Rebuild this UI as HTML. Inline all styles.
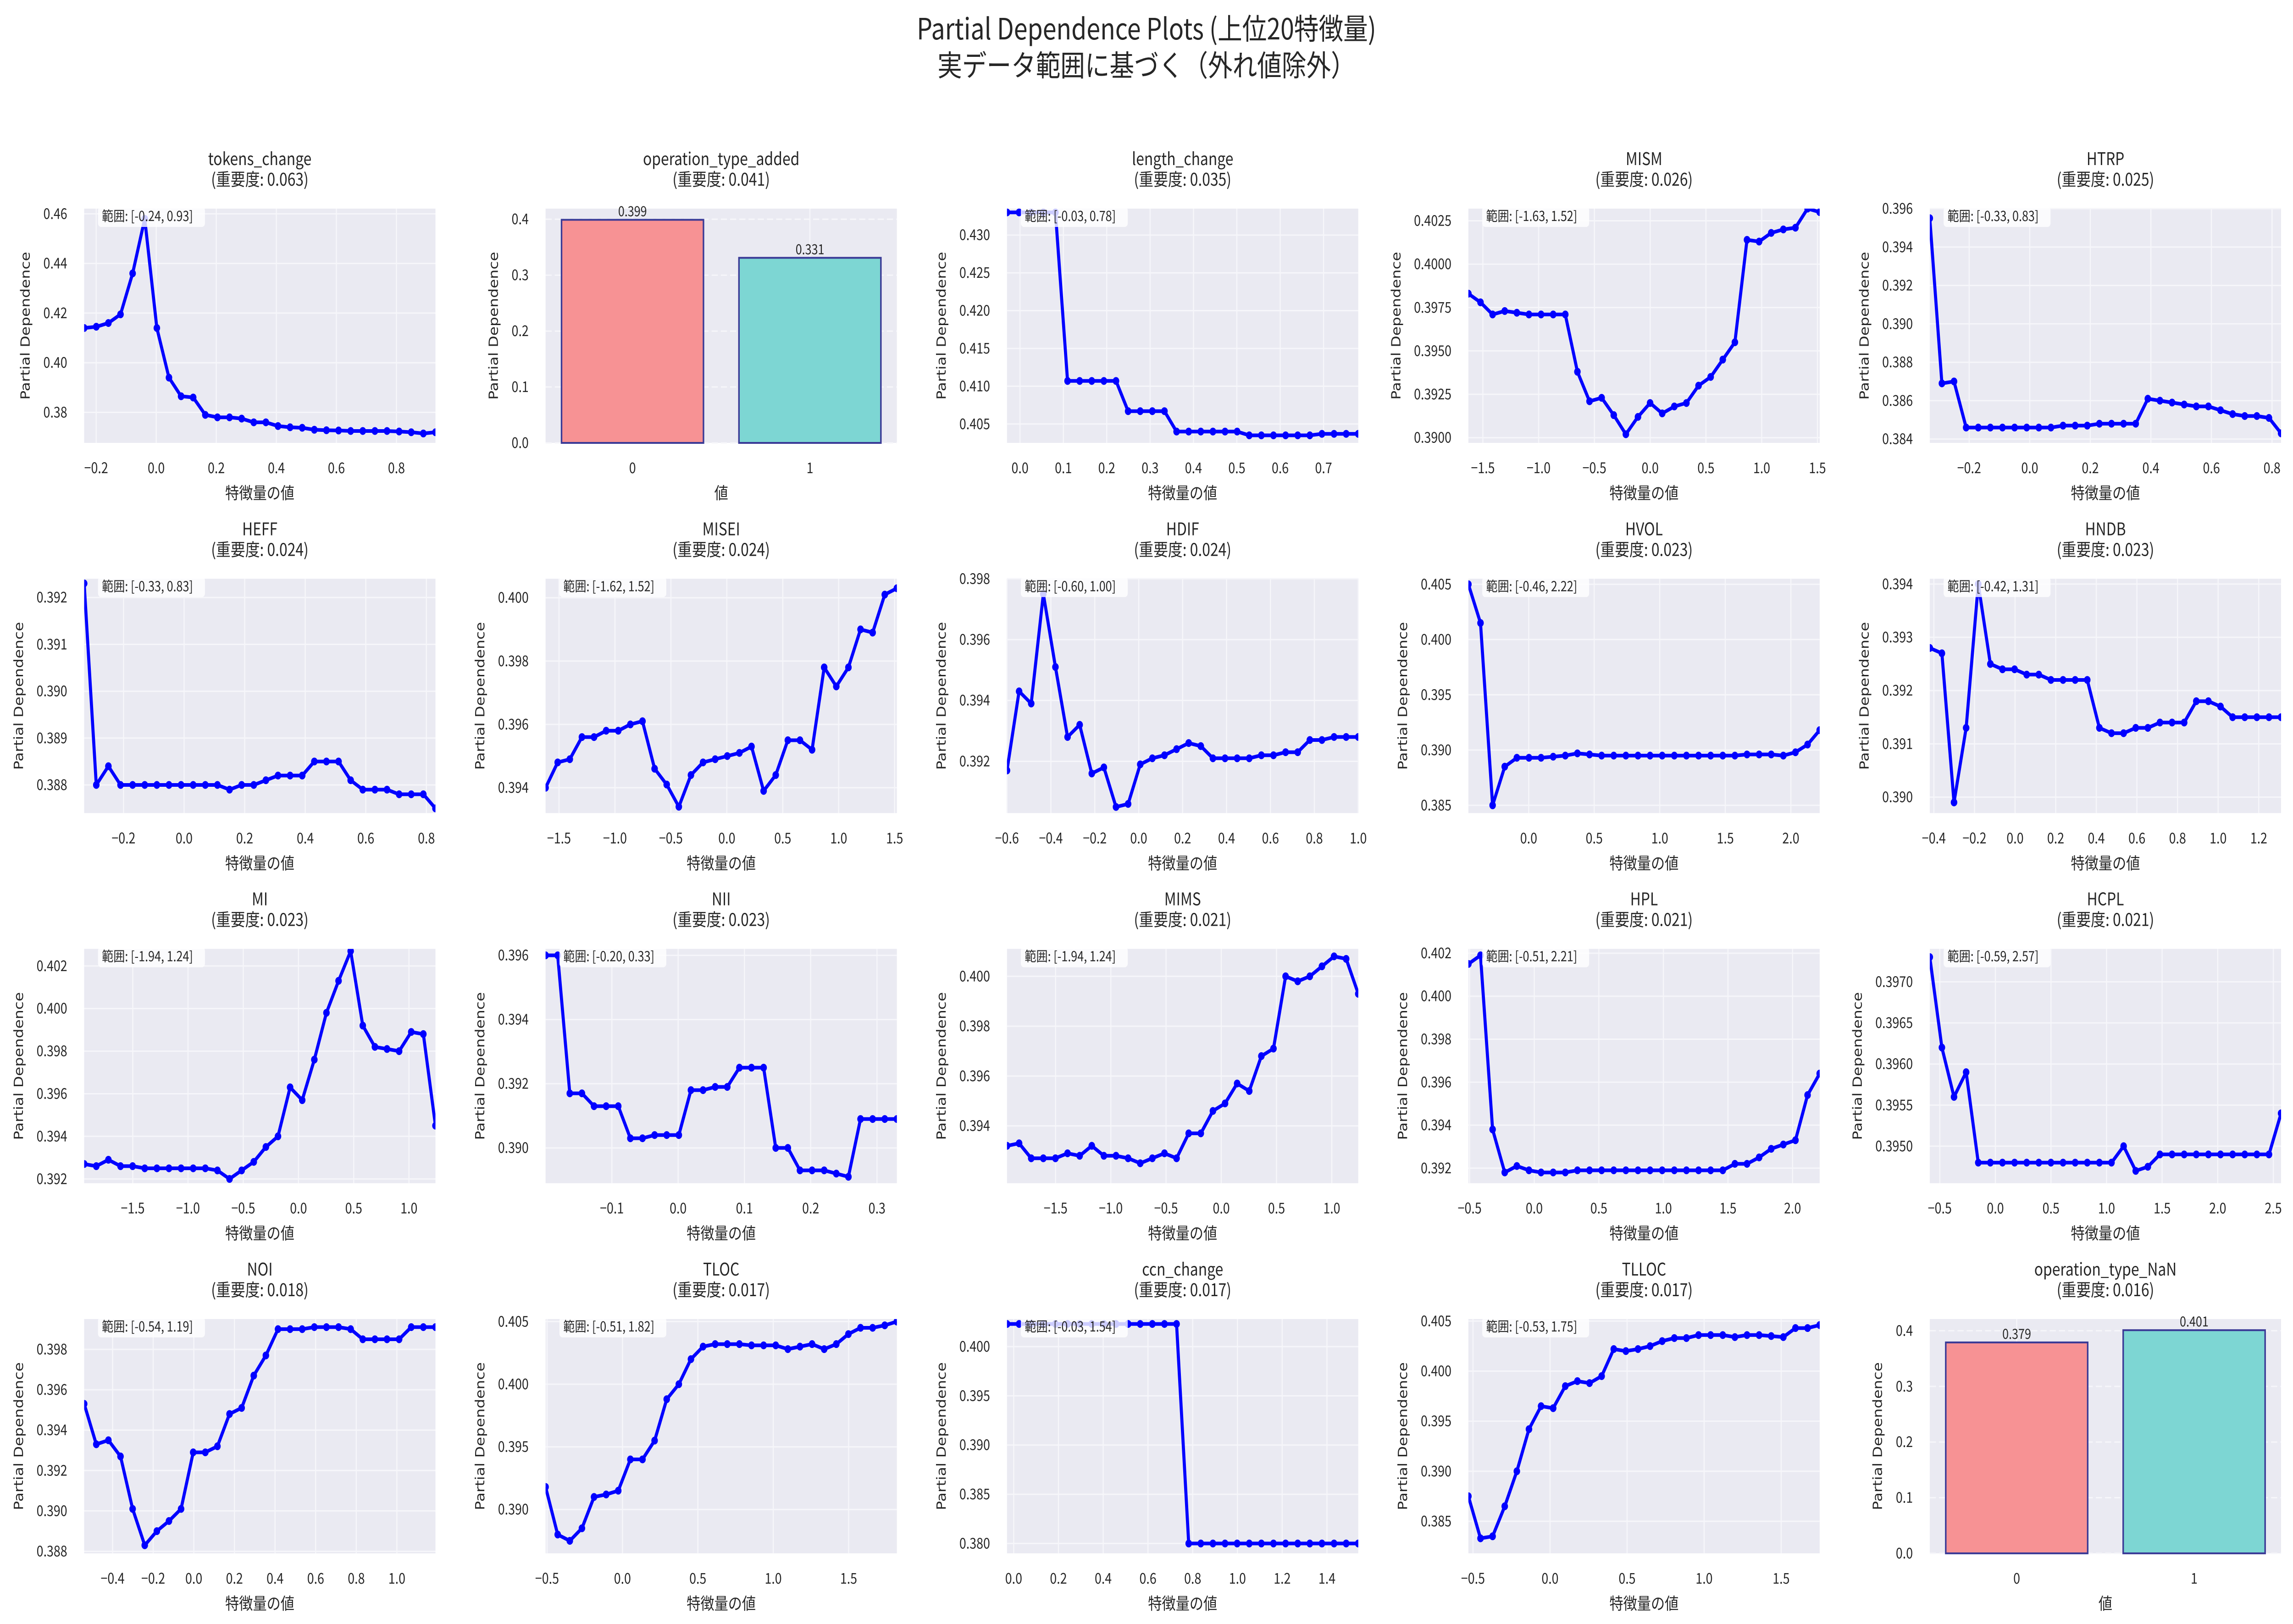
<!DOCTYPE html>
<html><head><meta charset="utf-8">
<style>
html,body{margin:0;padding:0;background:#fff;overflow:hidden;width:100vw;height:100vh;}
svg{display:block;width:100vw;height:100vh;}
text{font-family:"Liberation Sans","Noto Sans CJK JP",sans-serif;fill:#262626;}
.jp{font-family:"Noto Sans CJK JP","Liberation Sans",sans-serif;}
.dv{font-family:"DejaVu Sans","Liberation Sans",sans-serif;}
</style></head>
<body>
<svg id="s" viewBox="0 0 5966 3542" preserveAspectRatio="none" xmlns="http://www.w3.org/2000/svg">
<rect width="5966" height="3542" fill="#fff"/>
<text class="jp" x="2983" y="86" font-size="64" text-anchor="middle">Partial Dependence Plots (上位20特徴量)</text>
<text class="jp" x="2983" y="166" font-size="64" text-anchor="middle">実データ範囲に基づく（外れ値除外）</text>
</svg>
<script>
const NS="http://www.w3.org/2000/svg";
const S=document.getElementById('s');
function el(t,a,txt){const e=document.createElementNS(NS,t);for(const k in a)e.setAttribute(k,a[k]);if(txt!==undefined)e.textContent=txt;S.appendChild(e);return e;}
const P=[
{n:"tokens_change",imp:"0.063",x:[-0.24,0.93],y:[0.3677,0.4621],xt:[-0.2,0.8,0.2,1],yt:[0.38,0.46,0.02,2],
d:[0.414,0.4145,0.416,0.4195,0.436,0.458,0.414,0.394,0.3865,0.386,0.379,0.378,0.378,0.3775,0.376,0.376,0.3745,0.374,0.3738,0.373,0.3728,0.3727,0.3725,0.3725,0.3725,0.3725,0.3723,0.372,0.3715,0.372]},
{n:"operation_type_added",imp:"0.041",bar:[0.399,0.331],y:[0,0.419],yt:[0,0.4,0.1,1]},
{n:"length_change",imp:"0.035",x:[-0.03,0.78],y:[0.4025,0.4335],xt:[0,0.7,0.1,1],yt:[0.405,0.430,0.005,3],
d:[0.433,0.433,0.433,0.433,0.433,0.4107,0.4107,0.4107,0.4107,0.4107,0.4067,0.4067,0.4067,0.4067,0.404,0.404,0.404,0.404,0.404,0.404,0.4035,0.4035,0.4035,0.4035,0.4035,0.4035,0.4037,0.4037,0.4037,0.4037]},
{n:"MISM",imp:"0.026",x:[-1.63,1.52],y:[0.3897,0.4032],xt:[-1.5,1.5,0.5,1],yt:[0.39,0.4025,0.0025,4],
d:[0.3983,0.3978,0.3971,0.3973,0.3972,0.3971,0.3971,0.3971,0.3971,0.3938,0.3921,0.3923,0.3913,0.3902,0.3912,0.3920,0.3914,0.3918,0.3920,0.3930,0.3935,0.3945,0.3955,0.4014,0.4013,0.4018,0.4020,0.4021,0.4032,0.4030]},
{n:"HTRP",imp:"0.025",x:[-0.33,0.83],y:[0.3838,0.396],xt:[-0.2,0.8,0.2,1],yt:[0.384,0.396,0.002,3],
d:[0.3955,0.3869,0.387,0.3846,0.3846,0.3846,0.3846,0.3846,0.3846,0.3846,0.3846,0.3847,0.3847,0.3847,0.3848,0.3848,0.3848,0.3848,0.3861,0.386,0.3859,0.3858,0.3857,0.3857,0.3855,0.3853,0.3852,0.3852,0.3851,0.3843]},
{n:"HEFF",imp:"0.024",x:[-0.33,0.83],y:[0.3874,0.3924],xt:[-0.2,0.8,0.2,1],yt:[0.388,0.392,0.001,3],
d:[0.3923,0.3880,0.3884,0.3880,0.3880,0.3880,0.3880,0.3880,0.3880,0.3880,0.3880,0.3880,0.3879,0.3880,0.3880,0.3881,0.3882,0.3882,0.3882,0.3885,0.3885,0.3885,0.3881,0.3879,0.3879,0.3879,0.3878,0.3878,0.3878,0.3875]},
{n:"MISEI",imp:"0.024",x:[-1.62,1.52],y:[0.3932,0.4006],xt:[-1.5,1.5,0.5,1],yt:[0.394,0.400,0.002,3],
d:[0.3940,0.3948,0.3949,0.3956,0.3956,0.3958,0.3958,0.3960,0.3961,0.3946,0.3941,0.3934,0.3944,0.3948,0.3949,0.3950,0.3951,0.3953,0.3939,0.3944,0.3955,0.3955,0.3952,0.3978,0.3972,0.3978,0.3990,0.3989,0.4001,0.4003]},
{n:"HDIF",imp:"0.024",x:[-0.6,1.0],y:[0.3903,0.398],xt:[-0.6,1.0,0.2,1],yt:[0.392,0.398,0.002,3],
d:[0.3917,0.3943,0.3939,0.3975,0.3951,0.3928,0.3932,0.3916,0.3918,0.3905,0.3906,0.3919,0.3921,0.3922,0.3924,0.3926,0.3925,0.3921,0.3921,0.3921,0.3921,0.3922,0.3922,0.3923,0.3923,0.3927,0.3927,0.3928,0.3928,0.3928]},
{n:"HVOL",imp:"0.023",x:[-0.46,2.22],y:[0.3843,0.4055],xt:[0,2.0,0.5,1],yt:[0.385,0.405,0.005,3],
d:[0.4050,0.4015,0.3850,0.3885,0.3893,0.3893,0.3893,0.3894,0.3895,0.3897,0.3896,0.3895,0.3895,0.3895,0.3895,0.3895,0.3895,0.3895,0.3895,0.3895,0.3895,0.3895,0.3895,0.3896,0.3896,0.3896,0.3895,0.3898,0.3905,0.3918]},
{n:"HNDB",imp:"0.023",x:[-0.42,1.31],y:[0.3897,0.3941],xt:[-0.4,1.2,0.2,1],yt:[0.390,0.394,0.001,3],
d:[0.3928,0.3927,0.3899,0.3913,0.3940,0.3925,0.3924,0.3924,0.3923,0.3923,0.3922,0.3922,0.3922,0.3922,0.3913,0.3912,0.3912,0.3913,0.3913,0.3914,0.3914,0.3914,0.3918,0.3918,0.3917,0.3915,0.3915,0.3915,0.3915,0.3915]},
{n:"MI",imp:"0.023",x:[-1.94,1.24],y:[0.3918,0.4028],xt:[-1.5,1.0,0.5,1],yt:[0.392,0.402,0.002,3],
d:[0.3927,0.3926,0.3929,0.3926,0.3926,0.3925,0.3925,0.3925,0.3925,0.3925,0.3925,0.3924,0.3920,0.3924,0.3928,0.3935,0.3940,0.3963,0.3957,0.3976,0.3998,0.4013,0.4027,0.3992,0.3982,0.3981,0.3980,0.3989,0.3988,0.3945]},
{n:"NII",imp:"0.023",x:[-0.20,0.33],y:[0.3889,0.3962],xt:[-0.1,0.3,0.1,1],yt:[0.390,0.396,0.002,3],
d:[0.3960,0.3960,0.3917,0.3917,0.3913,0.3913,0.3913,0.3903,0.3903,0.3904,0.3904,0.3904,0.3918,0.3918,0.3919,0.3919,0.3925,0.3925,0.3925,0.3900,0.3900,0.3893,0.3893,0.3893,0.3892,0.3891,0.3909,0.3909,0.3909,0.3909]},
{n:"MIMS",imp:"0.021",x:[-1.94,1.24],y:[0.3917,0.4011],xt:[-1.5,1.0,0.5,1],yt:[0.394,0.400,0.002,3],
d:[0.3932,0.3933,0.3927,0.3927,0.3927,0.3929,0.3928,0.3932,0.3928,0.3928,0.3927,0.3925,0.3927,0.3929,0.3927,0.3937,0.3937,0.3946,0.3949,0.3957,0.3954,0.3968,0.3971,0.4000,0.3998,0.4000,0.4004,0.4008,0.4007,0.3993]},
{n:"HPL",imp:"0.021",x:[-0.51,2.21],y:[0.3913,0.4022],xt:[-0.5,2.0,0.5,1],yt:[0.392,0.402,0.002,3],
d:[0.4015,0.4019,0.3938,0.3918,0.3921,0.3919,0.3918,0.3918,0.3918,0.3919,0.3919,0.3919,0.3919,0.3919,0.3919,0.3919,0.3919,0.3919,0.3919,0.3919,0.3919,0.3919,0.3922,0.3922,0.3925,0.3929,0.3931,0.3933,0.3954,0.3964]},
{n:"HCPL",imp:"0.021",x:[-0.59,2.57],y:[0.39455,0.3974],xt:[-0.5,2.5,0.5,1],yt:[0.3950,0.3970,0.0005,4],
d:[0.3973,0.3962,0.3956,0.3959,0.3948,0.3948,0.3948,0.3948,0.3948,0.3948,0.3948,0.3948,0.3948,0.3948,0.3948,0.3948,0.3950,0.3947,0.39475,0.3949,0.3949,0.3949,0.3949,0.3949,0.3949,0.3949,0.3949,0.3949,0.3949,0.3954]},
{n:"NOI",imp:"0.018",x:[-0.54,1.19],y:[0.3879,0.3995],xt:[-0.4,1.0,0.2,1],yt:[0.388,0.398,0.002,3],
d:[0.3953,0.3933,0.3935,0.3927,0.3901,0.3883,0.3890,0.3895,0.3901,0.3929,0.3929,0.3932,0.3948,0.3951,0.3967,0.3977,0.3990,0.3990,0.3990,0.3991,0.3991,0.3991,0.3990,0.3985,0.3985,0.3985,0.3985,0.3991,0.3991,0.3991]},
{n:"TLOC",imp:"0.017",x:[-0.51,1.82],y:[0.3865,0.4052],xt:[-0.5,1.5,0.5,1],yt:[0.390,0.405,0.005,3],
d:[0.3918,0.3880,0.3875,0.3885,0.3910,0.3912,0.3915,0.3940,0.3940,0.3955,0.3988,0.4000,0.4020,0.4030,0.4032,0.4032,0.4032,0.4031,0.4031,0.4031,0.4028,0.4030,0.4032,0.4028,0.4032,0.4040,0.4045,0.4045,0.4047,0.4050]},
{n:"ccn_change",imp:"0.017",x:[-0.03,1.54],y:[0.3790,0.4028],xt:[0,1.4,0.2,1],yt:[0.380,0.400,0.005,3],
d:[0.4023,0.4023,0.4023,0.4023,0.4023,0.4023,0.4023,0.4023,0.4023,0.4023,0.4023,0.4023,0.4023,0.4023,0.4023,0.380,0.380,0.380,0.380,0.380,0.380,0.380,0.380,0.380,0.380,0.380,0.380,0.380,0.380,0.380]},
{n:"TLLOC",imp:"0.017",x:[-0.53,1.75],y:[0.3818,0.4052],xt:[-0.5,1.5,0.5,1],yt:[0.385,0.405,0.005,3],
d:[0.3875,0.3833,0.3835,0.3865,0.3900,0.3942,0.3965,0.3963,0.3985,0.3990,0.3988,0.3995,0.4022,0.4020,0.4022,0.4025,0.4030,0.4033,0.4033,0.4036,0.4036,0.4036,0.4034,0.4036,0.4036,0.4035,0.4034,0.4043,0.4043,0.4046]},
{n:"operation_type_NaN",imp:"0.016",bar:[0.379,0.401],y:[0,0.421],yt:[0,0.4,0.1,1]}
];
function fmt(v,dec){let s=Math.abs(v)<1e-9?(0).toFixed(dec):v.toFixed(dec);return s.replace('-','\u2212');}
function fr(v){return Math.abs(v)<1e-9?"0.00":v.toFixed(2);}
const W=914,H=511;
P.forEach((p,i)=>{
 const c=i%5,r=Math.floor(i/5);
 const L=219+1200.5*c, T=455+807.3*r, R=L+W, B=T+H;
 const xr=p.bar?[-0.49,1.49]:p.x;
 const X=v=>L+(v-xr[0])/(xr[1]-xr[0])*W;
 const Y=v=>B-(v-p.y[0])/(p.y[1]-p.y[0])*H;
 el('rect',{x:L,y:T,width:W,height:H,fill:'#eaeaf2'});
 let xt=[];
 if(p.bar){xt=[[0,"0"],[1,"1"]];}
 else{for(let v=p.xt[0];v<=p.xt[1]+1e-9;v+=p.xt[2])xt.push([v,fmt(v,p.xt[3])]);}
 let yt=[];for(let v=p.yt[0];v<=p.yt[1]+1e-9;v+=p.yt[2])yt.push([v,fmt(v,p.yt[3])]);
 xt.forEach(([v,s])=>{const x=X(v);el('line',{x1:x,x2:x,y1:T,y2:B,stroke:'#f6f6fa','stroke-width':3});
   el('text',{class:'jp',x:x,y:B+66,'font-size':32,'text-anchor':'middle'},s);});
 let maxw=0;
 yt.forEach(([v,s])=>{const y=Y(v);el('line',{x1:L,x2:R,y1:y,y2:y,stroke:'#f6f6fa','stroke-width':3,'stroke-dasharray':p.bar?'16,8':'none'});
   el('text',{class:'jp',x:L-44,y:y+11,'font-size':32,'text-anchor':'end'},s);maxw=Math.max(maxw,s.length*17.5);});
 el('text',{class:'jp',x:L+W/2,y:T-95,'font-size':38,'text-anchor':'middle'},p.n);
 el('text',{class:'jp',x:L+W/2,y:T-50,'font-size':38,'text-anchor':'middle'},"(重要度: "+p.imp+")");
 el('text',{class:'jp',x:L+W/2,y:B+122,'font-size':36,'text-anchor':'middle'},p.bar?"値":"特徴量の値");
 const yl=L-44-maxw-28;
 el('text',{class:'dv',x:yl,y:(T+B)/2,'font-size':33,'text-anchor':'middle',transform:`rotate(-90 ${yl} ${(T+B)/2})`},"Partial Dependence");
 if(p.bar){
   const cols=['#f79294','#7dd6d3'];
   p.bar.forEach((v,k)=>{const x0=X(k-0.4),x1=X(k+0.4),y=Y(v);
     el('rect',{x:x0,y:y,width:x1-x0,height:B-y,fill:cols[k],stroke:'#3a3a96','stroke-width':4});
     el('text',{class:'jp',x:X(k),y:y-8,'font-size':30,'text-anchor':'middle'},v.toFixed(3));});
 } else {
   const n=p.d.length;const pts=p.d.map((v,k)=>[X(p.x[0]+(p.x[1]-p.x[0])*k/(n-1)),Y(v)]);
   const cid='c'+i;
   const cp=el('clipPath',{id:cid});const cr=document.createElementNS(NS,'rect');
   cr.setAttribute('x',L);cr.setAttribute('y',T);cr.setAttribute('width',W);cr.setAttribute('height',H);cp.appendChild(cr);
   const gg=el('g',{'clip-path':`url(#${cid})`});
   const pl=document.createElementNS(NS,'polyline');
   pl.setAttribute('points',pts.map(q=>q[0].toFixed(1)+','+q[1].toFixed(1)).join(' '));
   pl.setAttribute('fill','none');pl.setAttribute('stroke','#0000ff');pl.setAttribute('stroke-width',8);pl.setAttribute('stroke-linejoin','round');
   gg.appendChild(pl);
   pts.forEach(q=>{const ci=document.createElementNS(NS,'circle');ci.setAttribute('cx',q[0]);ci.setAttribute('cy',q[1]);ci.setAttribute('r',8.5);ci.setAttribute('fill','#0000ff');gg.appendChild(ci);});
   const txt="範囲: ["+fr(p.x[0])+", "+fr(p.x[1])+"]";
   const tw=txt.length*14.6+10;
   el('rect',{x:L+36,y:T-4,width:tw+20,height:44,rx:8,fill:'#ffffff','fill-opacity':0.8});
   el('text',{class:'jp',x:L+46,y:T+27,'font-size':30},txt);
 }
});
</script>
</body></html>
